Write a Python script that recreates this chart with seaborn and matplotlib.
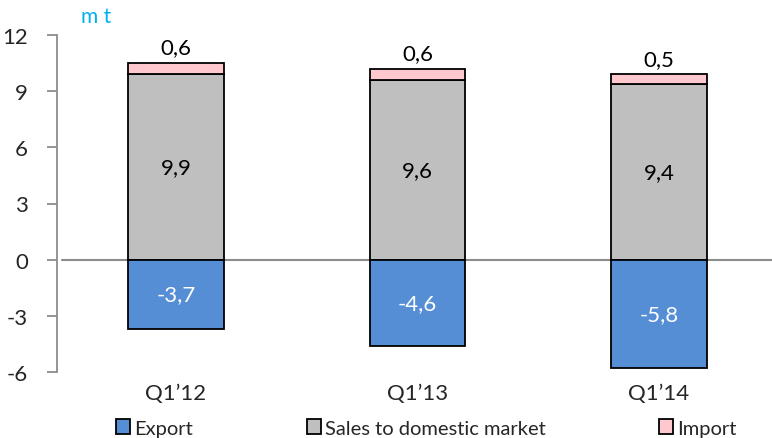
import matplotlib
matplotlib.use("Agg")
import matplotlib.pyplot as plt
from matplotlib.patches import Patch
import seaborn as sns
import pandas as pd

# Quarterly balance, million tonnes
quarters = ["Q1\u201912", "Q1\u201913", "Q1\u201914"]
export = [-3.7, -4.6, -5.8]
domestic_sales = [9.9, 9.6, 9.4]
imports = [0.6, 0.6, 0.5]
y_ticks = [-6, -3, 0, 3, 6, 9, 12]

series_names = ["Export", "Sales to domestic market", "Import"]
colors = {"Export": "#558ED5", "Sales to domestic market": "#BFBFBF", "Import": "#FFC7CE"}

sns.set_theme(style="white")
plt.rcParams["font.family"] = ["Lato", "DejaVu Sans"]

df = pd.DataFrame({"quarter": quarters, "export": export,
                   "sales": domestic_sales, "import": imports})

fig = plt.figure(figsize=(7.72, 4.39), dpi=100)
ax = fig.add_axes([57 / 772, 1 - 373 / 439, 1 - 57 / 772, (373 - 36) / 439])

bar_w = 0.394
edge = dict(edgecolor="black", linewidth=1.3)

sns.barplot(data=df, x="quarter", y="sales", color=colors["Sales to domestic market"],
            width=bar_w, saturation=1, ax=ax, zorder=3, **edge)
sns.barplot(data=df, x="quarter", y="import", bottom=df["sales"], color=colors["Import"],
            width=bar_w, saturation=1, ax=ax, zorder=3, **edge)
sns.barplot(data=df, x="quarter", y="export", color=colors["Export"],
            width=bar_w, saturation=1, ax=ax, zorder=3, **edge)

ax.axhline(0, xmin=0.007, xmax=1, color="#8C8C8C", linewidth=1.5, zorder=2)

def fmt(v):
    return f"{v:.1f}".replace(".", ",")

fs = 16
for i in range(len(quarters)):
    s, im, ex = domestic_sales[i], imports[i], export[i]
    ax.text(i, s / 2, fmt(s), ha="center", va="center", fontsize=fs, color="black", zorder=4)
    ax.text(i, s + im + 0.3, fmt(im), ha="center", va="bottom", fontsize=fs, color="black", zorder=4)
    ax.text(i, ex / 2, fmt(ex), ha="center", va="center", fontsize=fs, color="white", zorder=4)

ax.set_xlim(-0.493, 2.468)
ax.set_ylim(-6, 12)
ax.set_yticks(y_ticks)
ax.set_yticklabels([str(t) for t in y_ticks], fontsize=fs)
ax.set_xticks(range(len(quarters)))
ax.set_xticklabels(quarters, fontsize=fs)
ax.tick_params(axis="x", length=0, pad=8)
ax.tick_params(axis="y", length=7, width=1.3, color="#8C8C8C", pad=14, left=True)
ax.set_xlabel("")
ax.set_ylabel("")

for side in ["top", "right", "bottom"]:
    ax.spines[side].set_visible(False)
ax.spines["left"].set_color("#8C8C8C")
ax.spines["left"].set_linewidth(1.3)

fig.text(81 / 772, 1 - 17 / 439, "m t", color="#00B0F0", fontsize=15, va="center", ha="left")

legend_x = [116, 307, 659]
for name, x in zip(series_names, legend_x):
    fig.legend(handles=[Patch(facecolor=colors[name], edgecolor="black", linewidth=1.3, label=name)],
               loc="center left", bbox_to_anchor=(x / 772, 1 - 429 / 439), frameon=False,
               fontsize=14.5, handlelength=0.7, handleheight=0.7, handletextpad=0.2,
               borderpad=0, borderaxespad=0)

fig.savefig("out.png", dpi=100)
